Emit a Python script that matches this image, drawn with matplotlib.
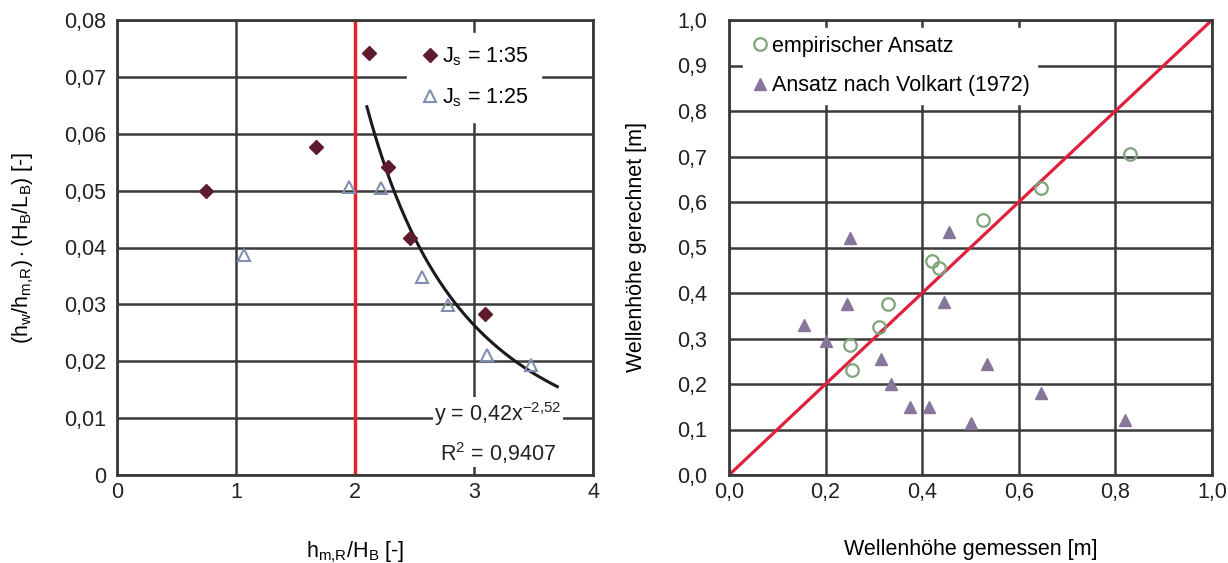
import numpy as np
import matplotlib
matplotlib.use("Agg")
import matplotlib.pyplot as plt
from matplotlib.ticker import FuncFormatter

plt.rcParams['font.family'] = ['Liberation Sans', 'DejaVu Sans']
plt.rcParams['mathtext.fontset'] = 'custom'
plt.rcParams['mathtext.rm'] = 'Liberation Sans'
plt.rcParams['mathtext.it'] = 'Liberation Sans:italic'

# ---- Left chart data ----
js35_x = [0.75, 1.67, 2.12, 2.28, 2.46, 3.09]
js35_y = [0.0500, 0.0576, 0.0742, 0.0541, 0.0417, 0.0283]
js25_x = [1.07, 1.95, 2.22, 2.56, 2.78, 3.11, 3.48]
js25_y = [0.0387, 0.0506, 0.0504, 0.0348, 0.0299, 0.0211, 0.0193]
fit_a = 0.42
fit_b = -2.52
fit_range = [2.1, 3.7]
limit_x = 2.0
left_xticks = [0, 1, 2, 3, 4]
left_yticks = [0, 0.01, 0.02, 0.03, 0.04, 0.05, 0.06, 0.07, 0.08]

# ---- Right chart data ----
emp_x = [0.25, 0.255, 0.31, 0.33, 0.42, 0.435, 0.525, 0.645, 0.83]
emp_y = [0.285, 0.23, 0.325, 0.375, 0.47, 0.455, 0.56, 0.63, 0.705]
volk_x = [0.25, 0.155, 0.245, 0.20, 0.315, 0.335, 0.375, 0.415, 0.445, 0.455, 0.535, 0.50, 0.645, 0.82]
volk_y = [0.52, 0.33, 0.375, 0.295, 0.255, 0.20, 0.15, 0.15, 0.38, 0.535, 0.245, 0.115, 0.18, 0.12]
right_ticks = [0.0, 0.2, 0.4, 0.6, 0.8, 1.0]
right_yticks = [0.0, 0.1, 0.2, 0.3, 0.4, 0.5, 0.6, 0.7, 0.8, 0.9, 1.0]

W, H = 1228, 563
fig = plt.figure(figsize=(W / 100, H / 100), dpi=100)
ax1 = fig.add_axes([117 / W, 1 - 475 / H, (593 - 117) / W, (475 - 20) / H])
ax2 = fig.add_axes([729 / W, 1 - 475 / H, (1212 - 729) / W, (475 - 20) / H])

grid_col = '#3a3a3a'
fs = 15.5


def comma(fmt):
    return FuncFormatter(lambda v, p: (fmt % v).replace('.', ','))


def style(ax, ypad):
    ax.grid(True, color=grid_col, linewidth=1.8)
    ax.set_axisbelow(True)
    for s in ax.spines.values():
        s.set_color(grid_col)
        s.set_linewidth(2.0)
    ax.tick_params(length=0, labelsize=fs, colors='#222222')
    ax.tick_params(axis='x', pad=5)
    ax.tick_params(axis='y', pad=ypad)


def white_legend(leg):
    fr = leg.get_frame()
    fr.set_edgecolor('white')
    fr.set_facecolor('white')
    fr.set_alpha(1)


# Left
style(ax1, 8)
ax1.set_xlim(0, 4)
ax1.set_ylim(0, 0.08)
ax1.set_xticks(left_xticks)
ax1.set_yticks(left_yticks)
ax1.xaxis.set_major_formatter(FuncFormatter(lambda v, p: '%d' % v))
ax1.yaxis.set_major_formatter(FuncFormatter(lambda v, p: '0' if v == 0 else ('%.2f' % v).replace('.', ',')))
ax1.axvline(limit_x, color='#e8202a', linewidth=2.5, zorder=2)
xf = np.linspace(fit_range[0], fit_range[1], 200)
ax1.plot(xf, fit_a * xf ** fit_b, color='#1a1a1a', linewidth=2.2, zorder=3)
ax1.plot(js35_x, js35_y, linestyle='none', marker='D', markersize=7,
         color='#5e1b2e', label=r'$\mathrm{J_s}$ = 1:35', zorder=4)
ax1.plot(js25_x, js25_y, linestyle='none', marker='^', markersize=8,
         markerfacecolor='none', markeredgecolor='#7f8fb0', markeredgewidth=1.5,
         label=r'$\mathrm{J_s}$ = 1:25', zorder=4)
leg1 = ax1.legend(loc='upper right', bbox_to_anchor=(0.914, 0.996), frameon=True,
                  fontsize=fs, handletextpad=0.1, handlelength=0.9, borderpad=0.6,
                  labelspacing=0.85, fancybox=False)
white_legend(leg1)
ax1.text(0.80, 0.092, r'y = 0,42x$^{\mathrm{-2{,}52}}$' + '\n' + r'R$^{\mathrm{2}}$ = 0,9407',
         transform=ax1.transAxes, ha='center', va='center', fontsize=fs,
         linespacing=1.55, color='#222222', multialignment='center',
         bbox=dict(facecolor='white', edgecolor='none', pad=1), zorder=5)
ax1.set_xlabel(r'$\mathrm{h_{m{,}R}/H_B}$ [-]', fontsize=fs, labelpad=26)
ax1.set_ylabel(r'$\mathrm{(h_w/h_{m{,}R})\cdot(H_B/L_B)}$ [-]', fontsize=fs, labelpad=20)

# Right
style(ax2, 16)
ax2.set_xlim(0, 1)
ax2.set_ylim(0, 1)
ax2.set_xticks(right_ticks)
ax2.set_yticks(right_yticks)
ax2.xaxis.set_major_formatter(comma('%.1f'))
ax2.yaxis.set_major_formatter(comma('%.1f'))
ax2.plot([0, 1], [0, 1], color='#e0203c', linewidth=2.3, zorder=2)
ax2.plot(emp_x, emp_y, linestyle='none', marker='o', markersize=9,
         markerfacecolor='none', markeredgecolor='#7fa37a', markeredgewidth=1.6,
         label='empirischer Ansatz', zorder=4)
ax2.plot(volk_x, volk_y, linestyle='none', marker='^', markersize=8,
         color='#86769a', label='Ansatz nach Volkart (1972)', zorder=4)
leg2 = ax2.legend(loc='upper left', bbox_to_anchor=(0.006, 1.005), frameon=True,
                  fontsize=fs, handletextpad=0.1, handlelength=0.9, borderpad=0.35,
                  labelspacing=0.85, fancybox=False)
white_legend(leg2)
ax2.set_xlabel('Wellenhöhe gemessen [m]', fontsize=fs, labelpad=26)
ax2.set_ylabel('Wellenhöhe gerechnet [m]', fontsize=fs, labelpad=21)

fig.savefig('out.png', dpi=100)
